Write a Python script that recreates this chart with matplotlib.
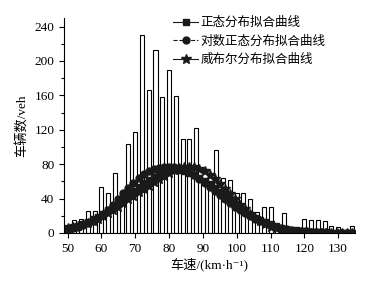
import matplotlib
matplotlib.use("Agg")
import matplotlib.pyplot as plt
from matplotlib.ticker import MultipleLocator

# histogram of observed speeds (2 km/h bins)
bar_speed = [50, 52, 54, 56, 58, 60, 62, 64, 66, 68, 70, 72, 74, 76, 78, 80, 82, 84,
             86, 88, 90, 92, 94, 96, 98, 100, 102, 104, 106, 108, 110, 112, 114, 116,
             118, 120, 122, 124, 126, 128, 130, 132, 134]
bar_count = [8, 15, 16, 25, 25, 54, 46, 70, 40, 103, 117, 230, 166, 213, 158, 189, 159, 109,
             109, 122, 61, 59, 96, 64, 62, 47, 47, 39, 24, 30, 30, 10, 23, 6,
             5, 16.5, 15, 15, 14, 8, 7.5, 3, 8]

# fitted curves
curve_speed = [50, 51.5, 53, 54.5, 56, 57.5, 59, 60.5, 62, 63.5, 65, 66.5, 68, 69.5, 71,
               72.5, 74, 75.5, 77, 78.5, 80, 81.5, 83, 84.5, 86, 87.5, 89, 90.5, 92, 93.5,
               95, 96.5, 98, 99.5, 101, 102.5, 104, 105.5, 107, 108.5, 110, 111.5, 113,
               114.5, 116, 117.5, 119, 120.5, 122, 123.5, 125, 126.5, 128, 129.5, 131,
               132.5, 134]
normal_fit = [5.4, 6.8, 8.5, 10.6, 13.0, 15.8, 18.9, 22.4, 26.3, 30.5, 34.9, 39.5, 44.3, 49.0,
              53.6, 58.0, 62.0, 65.6, 68.5, 70.8, 72.3, 73.0, 72.8, 71.8, 70.1, 67.6, 64.4,
              60.7, 56.6, 52.1, 47.4, 42.7, 38.0, 33.4, 29.1, 25.0, 21.2, 17.8, 14.8, 12.2,
              9.9, 7.9, 6.3, 4.9, 3.8, 2.9, 2.2, 1.7, 1.2, 0.9, 0.7, 0.5, 0.3, 0.2, 0.15,
              0.1, 0.1]
lognormal_fit = [4.5, 5.5, 7, 8.8, 11, 14, 17.5, 21.5, 26.5, 32.5, 39.5, 46, 52, 58, 63.5,
                 68, 72, 74.5, 76, 76.8, 77, 76.3, 75, 73.2, 71, 67.5, 63, 58.5, 54, 49,
                 44, 39.5, 35, 30.5, 26.5, 22.8, 19.3, 16.2, 13.5, 11, 9, 7.2, 5.8, 4.6,
                 3.6, 2.8, 2.2, 1.7, 1.3, 1, 0.8, 0.6, 0.45, 0.35, 0.25, 0.2, 0.15]
weibull_fit = [6, 7, 8.5, 10, 12, 14.2, 16.8, 19.7, 23, 26.6, 30.5, 34.6, 39, 43.5, 47.5,
               51.5, 55, 59, 63, 66.5, 70, 73, 75.3, 76.6, 77, 76.3, 74.5, 71.5, 67.5, 62.5,
               57, 51, 45, 39, 33, 27.5, 22.3, 17.7, 13.7, 10.3, 7.5, 5.3, 3.6, 2.4, 1.5,
               0.9, 0.5, 0.3, 0.15, 0.1, 0.05, 0.02, 0.01, 0, 0, 0, 0]

labels = ["正态分布拟合曲线", "对数正态分布拟合曲线", "威布尔分布拟合曲线"]

serif_cjk = ["Liberation Serif", "Noto Sans CJK SC", "DejaVu Sans"]
plt.rcParams["font.family"] = serif_cjk

fig = plt.figure(figsize=(3.75, 2.81), dpi=100)
ax = fig.add_axes([0.171, 0.171, 0.776, 0.765])

ax.bar(bar_speed, bar_count, width=1.2, color="white", edgecolor="black", linewidth=0.8)

ink = "#1a1a1a"
ax.plot(curve_speed, normal_fit, "-", color=ink, lw=0.8, marker="s", ms=4.5, label=labels[0])
ax.plot(curve_speed, lognormal_fit, "--", color=ink, lw=0.8, marker="o", ms=5, label=labels[1])
ax.plot(curve_speed, weibull_fit, "-", color=ink, lw=0.8, marker="*", ms=7.5, label=labels[2])

ax.set_xlim(49, 135)
ax.set_ylim(0, 250)
ax.xaxis.set_major_locator(MultipleLocator(10))
ax.yaxis.set_major_locator(MultipleLocator(40))
ax.yaxis.set_minor_locator(MultipleLocator(20))
ax.spines["top"].set_visible(False)
ax.spines["right"].set_visible(False)
ax.tick_params(axis="both", which="both", direction="out", labelsize=9.5, width=0.8)
ax.tick_params(which="major", length=3.5)
ax.tick_params(which="minor", length=2)

ax.set_xlabel("车速/(km·h⁻¹)", fontsize=9.5, labelpad=2)
ax.set_ylabel("车辆数/veh", fontsize=9.5, labelpad=4)

ax.legend(loc="upper left", bbox_to_anchor=(0.445, 0.965), bbox_transform=fig.transFigure,
          frameon=False, handlelength=2.0, handletextpad=0.2,
          labelspacing=0.45, borderpad=0, prop={"family": ["Noto Sans CJK SC"], "size": 9})

fig.savefig("out.png", dpi=100)
